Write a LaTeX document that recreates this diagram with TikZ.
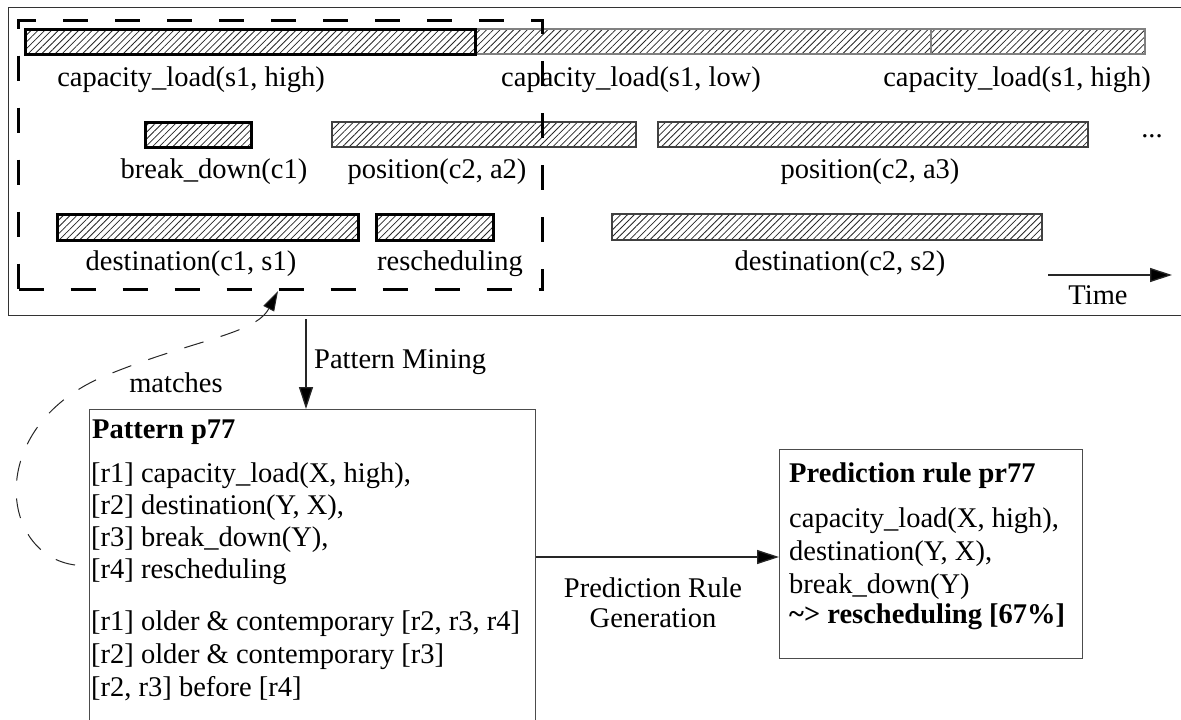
\documentclass[tikz,border=0pt]{standalone}
\usepackage{fontspec}
\setmainfont{Liberation Serif}
\usetikzlibrary{arrows.meta,patterns.meta}
\begin{document}
\begin{tikzpicture}[x=1pt,y=-1pt,
 every node/.style={font=\fontsize{28.5}{32}\selectfont, inner sep=0pt},
 hatch/.style={pattern={Lines[angle=45,distance=4.8pt,line width=0.8pt]}, pattern color=black!85},
 boldbar/.style={hatch, draw=black, line width=3pt},
 graybar/.style={hatch, draw=black!75, line width=1.2pt},
 palebar/.style={hatch, draw=black!50, line width=1.2pt},
 frame/.style={draw=black!80, line width=1.3pt},
 box/.style={draw=black!70, line width=1.3pt, anchor=north west},
 arr/.style={draw=black!85, line width=1.3pt, -{Triangle[length=22pt,width=14pt,fill=black]}},
 lbl/.style={anchor=base},
 ptxt/.style={anchor=base west},
]
\useasboundingbox (0,0) rectangle (1181,720);

% timeline frame
\node[frame, minimum width=1190pt, minimum height=308pt, anchor=north west] (timeline) at (8,7) {};

% bars
\path[palebar] (475,29) rectangle (931,54);
\path[palebar] (931,29) rectangle (1145,54);
\path[boldbar] (25,29) rectangle (475,54);
\path[boldbar] (145,122) rectangle (251,147);
\path[graybar] (332,122) rectangle (636,147);
\path[graybar] (658,122) rectangle (1088,147);
\path[boldbar] (57,214) rectangle (358,240);
\path[boldbar] (376,214) rectangle (493,240);
\path[graybar] (612,214) rectangle (1042,240);

% dashed window
\node[draw=black, line width=3pt, dash pattern=on 25pt off 27pt, minimum width=524pt, minimum height=269pt, anchor=north west] (window) at (17,19) {};

% bar labels
\node[lbl] (l1) at (191,86) {capacity\_load(s1, high)};
\node[lbl] (l2) at (631,86) {capacity\_load(s1, low)};
\node[lbl] (l3) at (1017,86) {capacity\_load(s1, high)};
\node[lbl] (l4) at (214,178) {break\_down(c1)};
\node[lbl] (l5) at (437,178) {position(c2, a2)};
\node[lbl] (l6) at (870,178) {position(c2, a3)};
\node[lbl] (dots) at (1152,137) {...};
\node[lbl] (l7) at (191,270) {destination(c1, s1)};
\node[lbl] (l8) at (450,270) {rescheduling};
\node[lbl] (l9) at (840,270) {destination(c2, s2)};

% time arrow
\coordinate (tstart) at (1048,275);
\coordinate (tend) at (1172,275);
\draw[arr] (tstart) -- (tend);
\node[lbl] (time) at (1098,304) {Time};

% pattern box
\node[box, minimum width=446pt, minimum height=330pt] (pattern) at (89,409) {};
\node[ptxt, font=\fontsize{28.5}{32}\selectfont\bfseries] (p0) at (92,438) {Pattern p77};
\node[ptxt] (p1) at (91,482) {[r1] capacity\_load(X, high),};
\node[ptxt] (p2) at (91,514) {[r2] destination(Y, X),};
\node[ptxt] (p3) at (91,546) {[r3] break\_down(Y),};
\node[ptxt] (p4) at (91,578) {[r4] rescheduling};
\node[ptxt] (p5) at (91,630) {[r1] older \& contemporary [r2, r3, r4]};
\node[ptxt] (p6) at (91,663) {[r2] older \& contemporary [r3]};
\node[ptxt] (p7) at (91,696) {[r2, r3] before [r4]};

% prediction box
\node[box, minimum width=303pt, minimum height=209pt] (predict) at (779,449) {};
\node[ptxt, font=\fontsize{28.5}{32}\selectfont\bfseries] (q0) at (789,482) {Prediction rule pr77};
\node[ptxt] (q1) at (789,527) {capacity\_load(X, high),};
\node[ptxt] (q2) at (789,560) {destination(Y, X),};
\node[ptxt] (q3) at (789,593) {break\_down(Y)};
\node[ptxt, font=\fontsize{28.5}{32}\selectfont\bfseries] (q4) at (789,623) {\textasciitilde{}> rescheduling [67\%]};

% pattern mining arrow
\coordinate (pmx) at (306,0);
\draw[arr] ([yshift=-3pt]timeline.south -| pmx) -- (pattern.north -| pmx);
\node[ptxt] (pm) at (314,368) {Pattern Mining};

% prediction rule generation arrow
\coordinate (gy) at (0,557);
\draw[arr] (pattern.east |- gy) -- (predict.west |- gy);
\node[anchor=north, align=center, font=\fontsize{28.5}{30}\selectfont] (gen) at (653,578) {Prediction Rule\\Generation};

% matches
\coordinate (mstart) at (75,565);
\coordinate (mx) at (278,0);
\draw[draw=black!85, line width=1pt, dash pattern=on 20pt off 18pt, -{Triangle[length=20pt,width=12pt,fill=black]}] (mstart) .. controls (0,555) and (-15,430) .. (100,378) .. controls (190,340) and (255,335) .. (window.south -| mx);
\node[lbl] (match) at (176,392) {matches};
\end{tikzpicture}
\end{document}
